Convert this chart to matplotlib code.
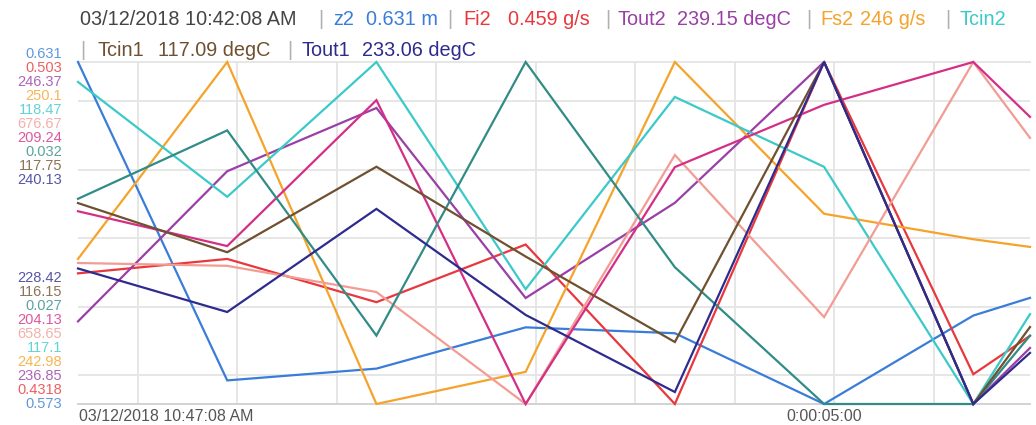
import numpy as np
import matplotlib
matplotlib.use("Agg")
import matplotlib.pyplot as plt
import matplotlib.transforms as mtransforms

plt.rcParams['font.family'] = ['Liberation Sans', 'DejaVu Sans']

# sample positions (sample index, last one cut by the right edge)
t = [0, 1, 2, 3, 4, 5, 6, 6.38]

names = ['z2', 'Fi2', 'Tout2', 'Fs2', 'Tcin2', 's6', 's7', 's8', 'Tcin1', 'Tout1']
units = ['m', 'g/s', 'degC', 'g/s', 'degC', '', '', '', 'degC', 'degC']
colors = ['#3a7dd8', '#e8383d', '#9a3fa6', '#f5a32a', '#3cc9c9',
          '#f29c94', '#d42f86', '#318c86', '#6f5030', '#2e2b8f']

z2 = [0.631, 0.577, 0.579, 0.586, 0.585, 0.573, 0.588, 0.591]
fi2 = [0.459, 0.462, 0.453, 0.465, 0.4318, 0.503, 0.438, 0.446]
tout2 = [239.15, 243.33, 245.09, 239.80, 242.45, 246.37, 236.85, 238.41]
fs2 = [246.0, 250.1, 242.98, 243.65, 250.1, 246.94, 246.41, 246.25]
tcin2 = [118.39, 117.93, 118.47, 117.56, 118.33, 118.05, 117.10, 117.46]
s6 = [666.08, 665.93, 664.55, 658.65, 671.77, 663.23, 676.67, 672.67]
s7 = [207.01, 206.49, 208.67, 204.13, 207.67, 208.60, 209.24, 208.42]
s8 = [0.030, 0.031, 0.028, 0.032, 0.029, 0.027, 0.027, 0.028]
tcin1 = [117.09, 116.86, 117.26, 116.84, 116.44, 117.75, 116.15, 116.51]
tout1 = [233.06, 231.57, 235.10, 231.47, 228.83, 240.13, 228.42, 230.17]

series = [z2, fi2, tout2, fs2, tcin2, s6, s7, s8, tcin1, tout1]

top_labels = ['0.631', '0.503', '246.37', '250.1', '118.47',
              '676.67', '209.24', '0.032', '117.75', '240.13']
bottom_labels = ['0.573', '0.4318', '236.85', '242.98', '117.1',
                 '658.65', '204.13', '0.027', '116.15', '228.42']

x_tick_pos = [0, 5]
x_tick_text = ['03/12/2018 10:47:08 AM', '0:00:05:00']

W, H = 1036, 425
fig = plt.figure(figsize=(W / 100, H / 100), dpi=100)
ax = fig.add_axes([78 / W, 21 / H, 952 / W, 342 / H])
ax.set_xlim(t[0], t[-1])
ax.set_ylim(0, 1)
ax.set_xticks(np.arange(0.402, t[-1], 2 / 3))
ax.set_yticks(0.085 + 0.2 * np.arange(5))
ax.tick_params(length=0, labelbottom=False, labelleft=False)
ax.grid(True, color='#e4e4e4', lw=1.3)
for s in ['left', 'right']:
    ax.spines[s].set_visible(False)
ax.spines['top'].set_color('#e4e4e4')
ax.spines['top'].set_linewidth(1.3)
ax.spines['bottom'].set_color('#cfcfcf')
ax.spines['bottom'].set_linewidth(1.3)

# every series has its own y scale (min..max)
for vals, c in zip(series, colors):
    sub = ax.twinx()
    sub.set_ylim(min(vals), max(vals))
    sub.axis('off')
    sub.plot(t, vals, color=c, lw=1.6, clip_on=False, solid_joinstyle='miter')

# left scale labels
for i, (lab, c) in enumerate(zip(top_labels, colors)):
    fig.text(62 / W, 1 - (54 + 14 * i) / H, lab, color=c, fontsize=10.5,
             ha='right', va='center', alpha=0.8)
for i, (lab, c) in enumerate(zip(bottom_labels, colors)):
    fig.text(62 / W, 1 - (404 - 14 * i) / H, lab, color=c, fontsize=10.5,
             ha='right', va='center', alpha=0.8)

# x labels
trans = mtransforms.blended_transform_factory(ax.transData, fig.transFigure)
ax.text(x_tick_pos[0] + 0.01, 1 - 421 / H, x_tick_text[0], transform=trans,
        ha='left', va='baseline', fontsize=11.5, color='#555555')
ax.text(x_tick_pos[1], 1 - 421 / H, x_tick_text[1], transform=trans,
        ha='center', va='baseline', fontsize=11.5, color='#555555')

# legend / header line
sep = '#b0b0b0'
hs = 14.3
def head(x, y, s, c):
    fig.text(x / W, 1 - y / H, s, color=c, fontsize=hs, ha='left', va='baseline')

head(80, 25, '03/12/2018 10:42:08 AM', '#444444')
pieces = [
    (318, 333, 366, 0),
    (447, 463, 508, 1),
    (605, 618, 677, 2),
    (806, 820, 860, 3),
]
for xs, xn, xv, k in pieces:
    head(xs, 25, '|', sep)
    head(xn, 25, names[k], colors[k])
    head(xv, 25, f'{series[k][0]:g} {units[k]}', colors[k])
head(945, 25, '|', sep)
head(960, 25, names[4], colors[4])

head(80, 56, '|', sep)
head(97, 56, names[8], colors[8])
head(158, 56, f'{series[8][0]:g} {units[8]}', colors[8])
head(287, 56, '|', sep)
head(302, 56, names[9], colors[9])
head(362, 56, f'{series[9][0]:g} {units[9]}', colors[9])

fig.savefig('out.png', dpi=100)
